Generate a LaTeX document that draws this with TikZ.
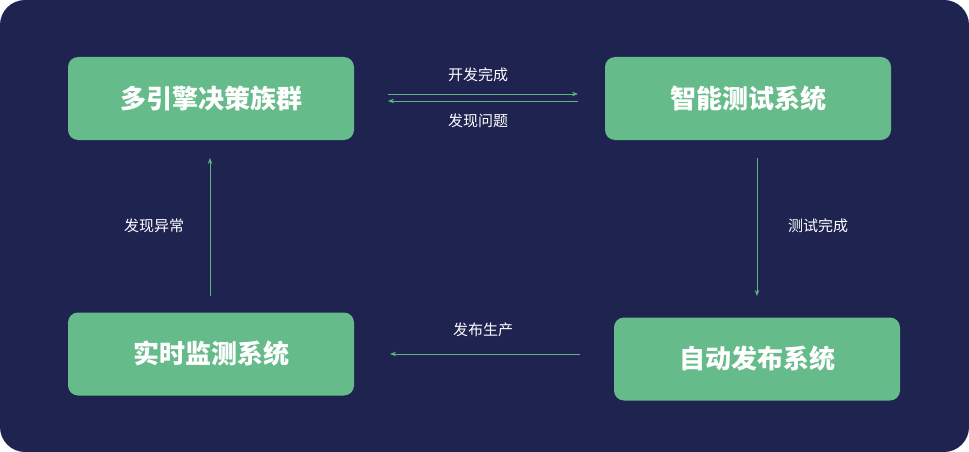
\documentclass[tikz,border=0pt]{standalone}
\usepackage{fontspec}
\setmainfont{Noto Sans CJK SC}
\usetikzlibrary{arrows.meta}
\definecolor{bg}{HTML}{1E2350}
\definecolor{boxg}{HTML}{66BB8A}
\definecolor{lineg}{HTML}{5DB583}
\tikzset{
  sysbox/.style={fill=boxg,rounded corners=10pt,minimum width=286pt,minimum height=83pt,text=white,font=\fontsize{26pt}{30pt}\selectfont\bfseries,inner sep=0pt},
  conn/.style={draw=lineg,line width=0.9pt,-{Stealth[length=6pt,width=4.5pt]}},
  lbl/.style={text=white,font=\fontsize{15pt}{18pt}\selectfont,inner sep=0pt}
}
\begin{document}
\begin{tikzpicture}[x=1pt,y=-1pt]
\fill[bg,rounded corners=25pt] (0,0) rectangle (969,452);
\useasboundingbox (0,0) rectangle (969,452);
\node[sysbox] (a) at (211,98.5) {多引擎决策族群};
\node[sysbox] (b) at (748,98.5) {智能测试系统};
\node[sysbox] (c) at (757,359) {自动发布系统};
\node[sysbox] (d) at (211,354) {实时监测系统};
\coordinate (a1) at (388,94); \coordinate (b1) at (578,94);
\coordinate (a2) at (388,101); \coordinate (b2) at (578,101);
\coordinate (b3) at (757,158); \coordinate (c3) at (757,296);
\coordinate (c4) at (580,354); \coordinate (d4) at (390,354);
\coordinate (d5) at (210,296); \coordinate (a5) at (210,158);
\draw[conn] (a1) -- (b1);
\draw[conn] (b2) -- (a2);
\draw[conn] (b3) -- (c3);
\draw[conn] (c4) -- (d4);
\draw[conn] (d5) -- (a5);
\node[lbl] (l1) at (478,75) {开发完成};
\node[lbl] (l2) at (478,121) {发现问题};
\node[lbl] (l3) at (818,226) {测试完成};
\node[lbl] (l4) at (483,330) {发布生产};
\node[lbl] (l5) at (154,226) {发现异常};
\end{tikzpicture}
\end{document}
